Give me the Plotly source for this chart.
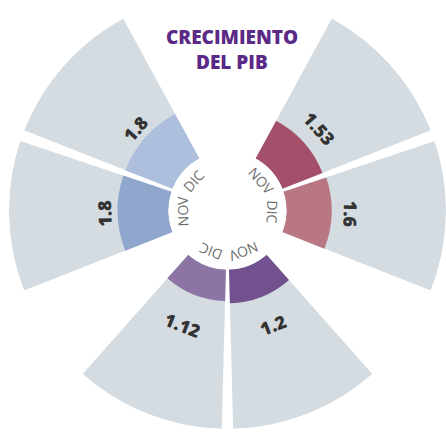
import math
import plotly.graph_objects as go

# ---- data ----
meses = ["NOV", "DIC"]
valores_nov = [1.53, 1.2, 1.8]      # grupo derecha, abajo, izquierda
valores_dic = [1.6, 1.12, 1.8]
etiquetas_nov = ["1.53", "1.2", "1.8"]
etiquetas_dic = ["1.6", "1.12", "1.8"]
titulo = ["CRECIMIENTO", "DEL PIB"]

# ---- layout / style constants ----
W, H = 446, 437
PAIR_CENTERS = [70, 180, 290]        # compass degrees of each pair
OFFSET = 21.5
WIDTH = 40
RMAX = 5.65
HOLE = 0.27
DOM_X = [0.02, 1.0]
DOM_Y = [0.0, 0.99]
SECTOR = [115, 425]
GREY = "#d4dce2"
COL_NOV = ["#a5506b", "#72528e", "#8fa6cd"]
COL_DIC = ["#b97783", "#8c74a4", "#adbfdd"]

theta_nov = [c - OFFSET for c in PAIR_CENTERS]
theta_dic = [c + OFFSET for c in PAIR_CENTERS]
thetas = theta_nov + theta_dic
vals = valores_nov + valores_dic
cols = COL_NOV + COL_DIC
labs = etiquetas_nov + etiquetas_dic
mes_lab = [meses[0]] * 3 + [meses[1]] * 3

fig = go.Figure()
fig.add_trace(go.Barpolar(r=[RMAX] * len(thetas), theta=thetas, width=[WIDTH] * len(thetas),
                          marker=dict(color=GREY, line=dict(width=0)), hoverinfo="skip"))
fig.add_trace(go.Barpolar(r=vals, theta=thetas, width=[WIDTH] * len(thetas),
                          marker=dict(color=cols, line=dict(width=0))))


# ---- replicate plotly's polar geometry to place rotated text ----
def sector_bbox(s):
    pts = [(0.0, 0.0)]
    n = 721
    for i in range(n):
        a = math.radians(s[0] + (s[1] - s[0]) * i / (n - 1))
        pts.append((math.cos(a), math.sin(a)))
    xs = [p[0] for p in pts]
    ys = [p[1] for p in pts]
    return min(xs), min(ys), max(xs), max(ys)


x0, y0, x1, y1 = sector_bbox(SECTOR)
xLength = W * (DOM_X[1] - DOM_X[0])
yLength = H * (DOM_Y[1] - DOM_Y[0])
xOffset = W * DOM_X[0]
yOffset = H * (1 - DOM_Y[1])
dxS, dyS = x1 - x0, y1 - y0
ySpan = dyS / dxS
if yLength / xLength > ySpan:
    xLength2 = xLength
    yLength2 = xLength * ySpan
    xOffset2 = xOffset
    yOffset2 = yOffset + (yLength - yLength2) / 2
else:
    yLength2 = yLength
    xLength2 = yLength / ySpan
    xOffset2 = xOffset + (xLength - xLength2) / 2
    yOffset2 = yOffset
R = xLength2 / dxS
cx = xOffset2 - R * x0
cy = yOffset2 + R * y1


def to_paper(theta, rpx):
    a = math.radians(theta)
    px = cx + rpx * math.sin(a)
    py = cy - rpx * math.cos(a)
    return px / W, 1 - py / H


annotations = []
LABEL_R = 0.565 * R
INNER_R = 0.205 * R
for th, lab, ml in zip(thetas, labs, mes_lab):
    ang = th - 180 if 120 < th < 240 else th
    xp, yp = to_paper(th, LABEL_R)
    annotations.append(dict(x=xp, y=yp, xref="paper", yref="paper", text=lab, showarrow=False,
                            textangle=ang, xanchor="center", yanchor="middle",
                            font=dict(family="Open Sans", size=18, color="#333333", weight=800)))
    xp, yp = to_paper(th, INNER_R)
    annotations.append(dict(x=xp, y=yp, xref="paper", yref="paper", text=ml, showarrow=False,
                            textangle=th, xanchor="center", yanchor="middle",
                            font=dict(family="Open Sans", size=14, color="#6e6e6e")))

for i, t in enumerate(titulo):
    annotations.append(dict(x=232 / W, y=1 - (37 + 25 * i) / H, xref="paper", yref="paper", text=t,
                            showarrow=False, xanchor="center", yanchor="middle",
                            font=dict(family="Open Sans", size=19, color="#5b2a86", weight=800)))

fig.update_layout(
    width=W, height=H, margin=dict(l=0, r=0, t=0, b=0),
    paper_bgcolor="white", plot_bgcolor="white", showlegend=False,
    polar=dict(
        domain=dict(x=DOM_X, y=DOM_Y), sector=SECTOR, hole=HOLE, bgcolor="white", barmode="overlay",
        radialaxis=dict(range=[0, RMAX], visible=False, showgrid=False, showline=False, showticklabels=False),
        angularaxis=dict(rotation=90, direction="clockwise", showgrid=False, showline=False,
                         showticklabels=False, ticks=""),
    ),
    annotations=annotations,
)
fig.write_html("out.html")
